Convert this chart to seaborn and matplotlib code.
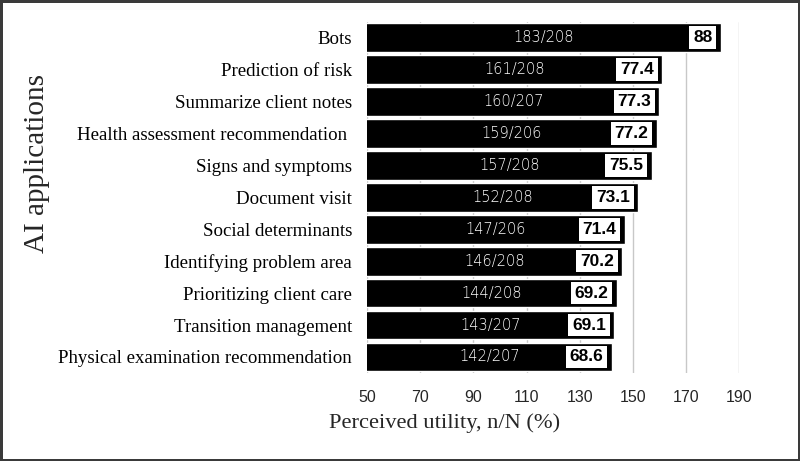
import pandas as pd
import seaborn as sns
import matplotlib.pyplot as plt

apps = ["Bots", "Prediction of risk", "Summarize client notes",
        "Health assessment recommendation ", "Signs and symptoms",
        "Document visit", "Social determinants", "Identifying problem area",
        "Prioritizing client care", "Transition management",
        "Physical examination recommendation"]
n_yes = [183, 161, 160, 159, 157, 152, 147, 146, 144, 143, 142]
n_total = [208, 208, 207, 206, 208, 208, 206, 208, 208, 207, 207]
pct = ["88", "77.4", "77.3", "77.2", "75.5", "73.1", "71.4", "70.2", "69.2", "69.1", "68.6"]
xticks = [50, 70, 90, 110, 130, 150, 170, 190]

df = pd.DataFrame({"app": apps, "n": n_yes, "N": n_total, "pct": pct})

sns.set_style("white")
fig = plt.figure(figsize=(8, 4.61), dpi=100, edgecolor="#3a3a3a", linewidth=2.5)
ax = fig.add_axes([0.459, 0.191, 0.465, 0.762])

sns.barplot(data=df, x="n", y="app", orient="h", color="black",
            width=0.9, saturation=1, ax=ax, zorder=2)

ax.set_xlim(50, 190)
ax.set_xticks(xticks)
ax.grid(axis="x", color="#c8c8c8", linewidth=1, zorder=0)
ax.set_axisbelow(True)
for s in ax.spines.values():
    s.set_visible(False)
ax.tick_params(length=0)
ax.tick_params(axis="x", pad=12)
ax.tick_params(axis="y", pad=11)
for lab in ax.get_xticklabels():
    lab.set_fontfamily("Liberation Sans")
    lab.set_fontsize(11.5)
for lab in ax.get_yticklabels():
    lab.set_fontfamily("Liberation Serif")
    lab.set_fontsize(13.6)
    lab.set_color("black")

ax.set_xlabel("Perceived utility, n/N (%)", family="Liberation Serif",
              fontsize=16.2)
ax.xaxis.set_label_coords(0.207, -0.142)
ax.xaxis.label.set_va("center")
ax.set_ylabel("AI applications", family="Liberation Serif", fontsize=21)
ax.yaxis.set_label_coords(-0.888, 0.595)
ax.yaxis.label.set_va("center")

for i, row in df.iterrows():
    ax.text((50 + row["n"]) / 2, i, f"{row['n']}/{row['N']}", color="white",
            ha="center", va="center", fontsize=10.5, family="DejaVu Sans",
            fontweight="light", zorder=3)
    ax.annotate(row["pct"], xy=(row["n"], i), xytext=(-6, 0),
                textcoords="offset points", ha="right", va="center",
                fontsize=12.5, family="Liberation Sans", fontweight="bold",
                color="black", zorder=4,
                bbox=dict(boxstyle="square,pad=0.22", fc="white", ec="none"))

fig.savefig("out.png", dpi=100, edgecolor=fig.get_edgecolor())
